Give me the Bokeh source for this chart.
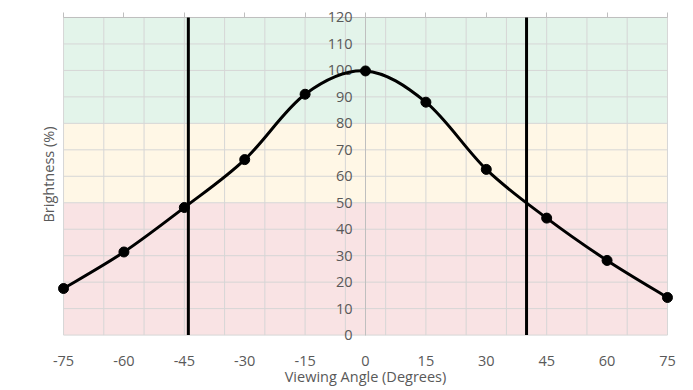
import numpy as np
from bokeh.plotting import figure
from bokeh.models import Range1d, LinearAxis, FixedTicker, ColumnDataSource
from bokeh.embed import file_html
from bokeh.resources import INLINE

# ---- data ----
angles = [-75, -60, -45, -30, -15, 0, 15, 30, 45, 60, 75]
brightness = [17.6, 31.4, 48.2, 66.3, 91.0, 99.8, 88.0, 62.6, 44.2, 28.2, 14.2]
x_ticks = [-75, -60, -45, -30, -15, 0, 15, 30, 45, 60, 75]
x_labels = ["-75", "-60", "-45", "-30", "-15", "0", "15", "30", "45", "60", "75"]
y_ticks = [0, 10, 20, 30, 40, 50, 60, 70, 80, 90, 100, 110, 120]
x_grid = [-75, -65, -55, -45, -35, -25, -15, -5, 5, 15, 25, 35, 45, 55, 65, 75]
band_bottoms = [0, 50, 80]
band_tops = [50, 80, 120]
band_colors = ["#F9E3E4", "#FFF7E6", "#E3F4EA"]
threshold_angles = [-44, 40]

FONT = "Open Sans"
FS = "14.5px"
TXT = "#595959"
GRID = "#D6D6D6"
AXIS = "#BFBFBF"

xmin, xmax = x_ticks[0], x_ticks[-1]
ymin, ymax = y_ticks[0], y_ticks[-1]
XPAD, YPAD_LO, YPAD_HI = 1.5, 2.8, 4.15

p = figure(width=685, height=388, output_backend="svg", toolbar_location=None,
           x_range=Range1d(xmin - XPAD, xmax + XPAD),
           y_range=Range1d(ymin - YPAD_LO, ymax + YPAD_HI),
           x_axis_location=None, y_axis_location=None,
           min_border_left=57, min_border_right=12, min_border_top=6, min_border_bottom=42)
p.outline_line_color = None
p.background_fill_color = "white"
p.xgrid.grid_line_color = None
p.ygrid.grid_line_color = None

# bands
bands = ColumnDataSource(dict(bottom=band_bottoms, top=band_tops, color=band_colors))
p.quad(left=xmin, right=xmax, bottom="bottom", top="top", fill_color="color",
       line_color=None, source=bands, level="image")

# grid lines (limited to the chart area)
p.segment(x0=x_grid, x1=x_grid, y0=[ymin] * len(x_grid), y1=[ymax] * len(x_grid),
          line_color=GRID, line_width=1, level="image")
p.segment(x0=[xmin] * len(y_ticks), x1=[xmax] * len(y_ticks), y0=y_ticks, y1=y_ticks,
          line_color=GRID, line_width=1, level="image")

# y axis with tick labels at x = 0
yax = LinearAxis(ticker=FixedTicker(ticks=y_ticks), fixed_location=0, bounds=(ymin, ymax))
yax.level = "underlay"
yax.axis_line_color = AXIS
yax.major_tick_in = 0
yax.major_tick_out = 0
yax.minor_tick_line_color = None
yax.major_label_standoff = 13
yax.major_label_text_font = FONT
yax.major_label_text_font_size = FS
yax.major_label_text_color = TXT
p.add_layout(yax, "left")

# y axis title only
ylab = LinearAxis(ticker=FixedTicker(ticks=[]), axis_label="Brightness (%)")
ylab.axis_line_color = None
ylab.major_tick_line_color = None
ylab.minor_tick_line_color = None
ylab.axis_label_standoff = 0
ylab.axis_label_text_font = FONT
ylab.axis_label_text_font_size = FS
ylab.axis_label_text_font_style = "normal"
ylab.axis_label_text_color = TXT
p.add_layout(ylab, "left")

# top axis line at 120 with outward ticks only
top = LinearAxis(ticker=FixedTicker(ticks=[], minor_ticks=x_ticks), fixed_location=ymax,
                 bounds=(xmin, xmax))
top.level = "underlay"
top.axis_line_color = AXIS
top.major_tick_line_color = None
top.minor_tick_line_color = AXIS
top.minor_tick_in = 0
top.minor_tick_out = 5
p.add_layout(top, "above")

# bottom axis: labels only
bot = LinearAxis(ticker=FixedTicker(ticks=x_ticks), axis_label="Viewing Angle (Degrees)")
bot.major_label_overrides = dict(zip(x_ticks, x_labels))
bot.axis_line_color = None
bot.major_tick_line_color = None
bot.minor_tick_line_color = None
bot.major_label_standoff = 7
bot.major_label_text_font = FONT
bot.major_label_text_font_size = FS
bot.major_label_text_color = TXT
bot.axis_label_standoff = -2
bot.axis_label_text_font = FONT
bot.axis_label_text_font_size = FS
bot.axis_label_text_font_style = "normal"
bot.axis_label_text_color = TXT
p.add_layout(bot, "below")

# threshold lines
p.segment(x0=threshold_angles, x1=threshold_angles,
          y0=[ymin] * len(threshold_angles), y1=[ymax] * len(threshold_angles),
          line_color="black", line_width=3)

# smoothed curve (Catmull-Rom -> Bezier) through the data points
xs = np.array(angles, dtype=float)
ys = np.array(brightness, dtype=float)
xp = np.concatenate([[xs[0]], xs, [xs[-1]]])
yp = np.concatenate([[ys[0]], ys, [ys[-1]]])
n = len(xs)
x0, y0 = xs[:-1], ys[:-1]
x1, y1 = xs[1:], ys[1:]
cx0 = x0 + (xp[2:n + 1] - xp[0:n - 1]) / 6
cy0 = y0 + (yp[2:n + 1] - yp[0:n - 1]) / 6
cx1 = x1 - (xp[3:n + 2] - xp[1:n]) / 6
cy1 = y1 - (yp[3:n + 2] - yp[1:n]) / 6
p.bezier(x0=x0, y0=y0, x1=x1, y1=y1, cx0=cx0, cy0=cy0, cx1=cx1, cy1=cy1,
         line_color="black", line_width=3)
p.scatter(angles, brightness, size=10, color="black")

open("out.html", "w").write(file_html(p, INLINE))
